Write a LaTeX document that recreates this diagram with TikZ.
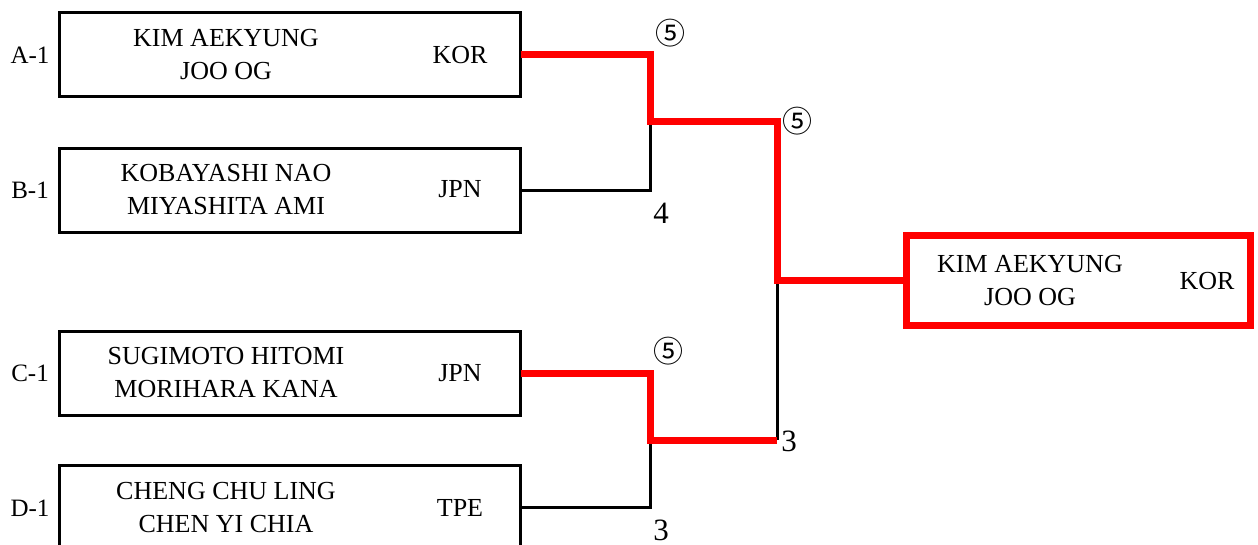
\documentclass[tikz,border=0pt]{standalone}
\usepackage{fontspec}
\setmainfont{Liberation Serif}
\newfontfamily\circfont{Noto Sans CJK JP}
\usetikzlibrary{positioning}

\begin{document}
\begin{tikzpicture}[
	x = 0.5pt, y = -0.5pt,
	pairnode/.style={rectangle, draw, line width = 1.5pt, minimum width = 230.5pt, minimum height = 42pt, inner sep = 0pt, outer sep = 0pt},
	winnode/.style={rectangle, draw=red, line width = 3.5pt, minimum width = 172pt, minimum height = 45pt, inner sep = 0pt, outer sep = 0pt},
	namenode/.style={align=center, font=\fontsize{13}{16.5}\selectfont, inner sep = 0pt},
	codenode/.style={font=\fontsize{13}{16}\selectfont, inner sep = 0pt},
	seednode/.style={font=\fontsize{12.5}{15}\selectfont, inner sep = 0pt},
	scorenode/.style={font=\fontsize{15.5}{18}\selectfont, inner sep = 0pt},
	circnode/.style={font=\circfont\fontsize{15}{18}\selectfont, inner sep = 0pt},
	lostline/.style={line width = 1.5pt},
	wonline/.style={draw=red, line width = 3.5pt},
	]
	\useasboundingbox (0,0) rectangle (1258,545);
	%Nodes
	\node[pairnode]     (a)   at (290,54.5)  {};
	\node[pairnode]     (b)   at (290,190.5) {};
	\node[pairnode]     (c)   at (290,373)   {};
	\node[pairnode]     (d)   at (290,507.5) {};
	\node[winnode]      (w)   at (1078.5,280.5) {};

	\node[seednode]     (sa)  at (30,55)  {A-1};
	\node[seednode]     (sb)  at (30,190) {B-1};
	\node[seednode]     (sc)  at (30,373) {C-1};
	\node[seednode]     (sd)  at (30,508) {D-1};

	\node[namenode]     (na)  at (226,55)  {KIM AEKYUNG\\JOO OG};
	\node[namenode]     (nb)  at (226,190) {KOBAYASHI NAO\\MIYASHITA AMI};
	\node[namenode]     (nc)  at (226,373) {SUGIMOTO HITOMI\\MORIHARA KANA};
	\node[namenode]     (nd)  at (226,508) {CHENG CHU LING\\CHEN YI CHIA};
	\node[namenode]     (nw)  at (1030,281) {KIM AEKYUNG\\JOO OG};

	\node[codenode]     (ca)  at (460,55)  {KOR};
	\node[codenode]     (cb)  at (460,189) {JPN};
	\node[codenode]     (cc)  at (460,373) {JPN};
	\node[codenode]     (cd)  at (460,508) {TPE};
	\node[codenode]     (cw)  at (1207,281) {KOR};

	%Junctions
	\coordinate (j1) at (650,122);
	\coordinate (j2) at (650,440);
	\coordinate (j3) at (777,281);
	\coordinate (j4) at (777,440);

	%Scores
	\node[circnode]     (s1)  at (670,33)  {⑤};
	\node[scorenode]    (s2)  at (661,213) {4};
	\node[circnode]     (s3)  at (668,351) {⑤};
	\node[scorenode]    (s4)  at (661,530) {3};
	\node[circnode]     (s5)  at (797,121) {⑤};
	\node[scorenode]    (s6)  at (789,441) {3};

	%Lines
	\draw[lostline] (b.east) -| (j1);
	\draw[lostline] (d.east) -| (j2);
	\draw[lostline] (j4) -- (j3);
	\draw[wonline] (a.east) -| (j1) -| (j3) -- (j3 -| w.west);
	\draw[wonline] (c.east) -| (j2) -- (j4);
\end{tikzpicture}
\end{document}
